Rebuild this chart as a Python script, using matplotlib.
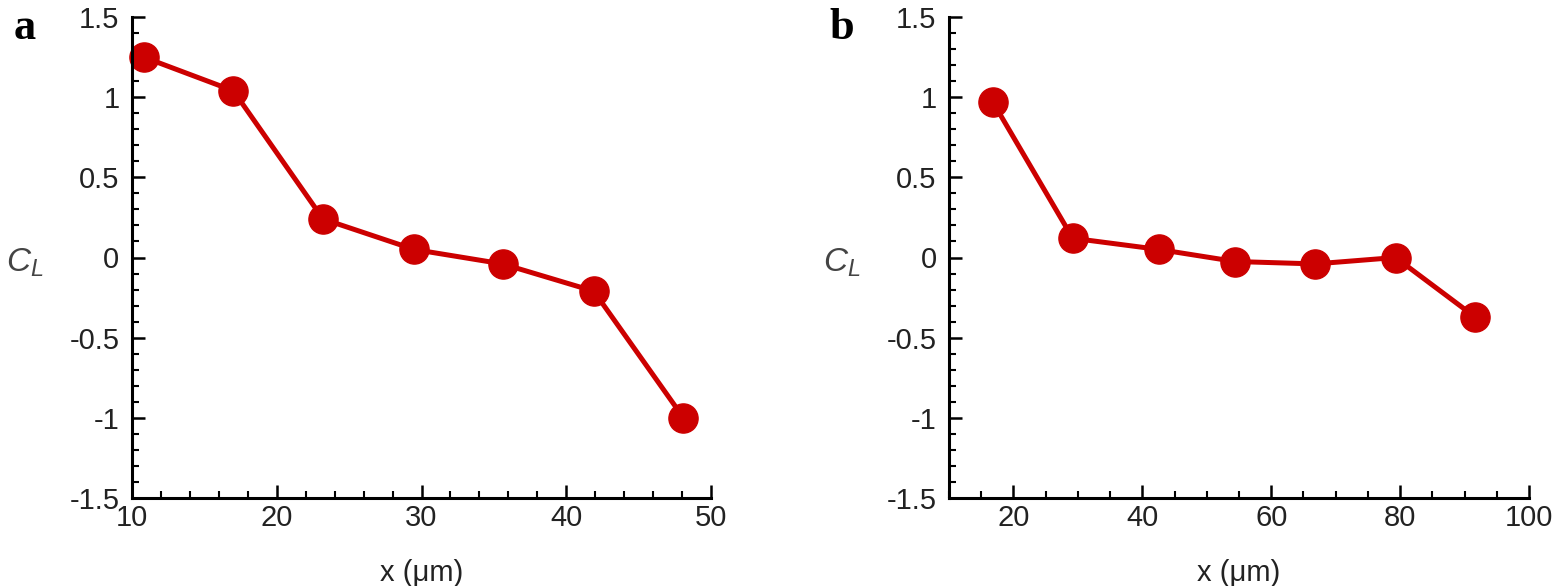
import numpy as np
import matplotlib
matplotlib.use("Agg")
import matplotlib.pyplot as plt
from matplotlib.ticker import MultipleLocator

# data
x_a = [10.8, 17.0, 23.2, 29.5, 35.6, 41.9, 48.1]
cl_a = [1.25, 1.04, 0.24, 0.05, -0.04, -0.21, -1.0]

x_b = [16.8, 29.2, 42.6, 54.4, 66.8, 79.3, 91.6]
cl_b = [0.97, 0.12, 0.05, -0.025, -0.04, 0.0, -0.37]

panel_labels = ["a", "b"]

plt.rcParams['font.family'] = ['Liberation Sans', 'DejaVu Sans']
plt.rcParams['mathtext.fontset'] = 'custom'
plt.rcParams['mathtext.it'] = 'Liberation Sans:italic'
plt.rcParams['mathtext.rm'] = 'Liberation Sans'

red = '#cc0000'
txt = '#222222'

fig = plt.figure(figsize=(15.59, 5.86), dpi=100)
ax_a = fig.add_axes([132/1559, 1 - 498/586, (711 - 132)/1559, (498 - 17)/586])
ax_b = fig.add_axes([949/1559, 1 - 498/586, (1529 - 949)/1559, (498 - 17)/586])

setups = [
    (ax_a, x_a, cl_a, (10, 50), 10, 2),
    (ax_b, x_b, cl_b, (10, 100), 20, 5),
]

for (ax, xs, ys, xlim, xmaj, xmin), lab in zip(setups, panel_labels):
    ax.plot(xs, ys, color=red, lw=3.6, marker='o', ms=21, mec=red, mfc=red, clip_on=False)
    ax.set_xlim(*xlim)
    ax.set_ylim(-1.5, 1.5)
    ax.xaxis.set_major_locator(MultipleLocator(xmaj))
    ax.xaxis.set_minor_locator(MultipleLocator(xmin))
    ax.yaxis.set_minor_locator(MultipleLocator(0.1))
    ax.set_yticks([-1.5, -1, -0.5, 0, 0.5, 1, 1.5])
    ax.set_yticklabels(['-1.5', '-1', '-0.5', '0', '0.5', '1', '1.5'])
    if xlim[1] == 100:
        ax.set_xticks([20, 40, 60, 80, 100])
    for s in ['top', 'right']:
        ax.spines[s].set_visible(False)
    for s in ['left', 'bottom']:
        ax.spines[s].set_linewidth(2.2)
    ax.tick_params(which='major', direction='in', length=9.5, width=1.8,
                   labelsize=21, labelcolor=txt, pad=4)
    ax.tick_params(which='minor', direction='in', length=5, width=1.5)
    ax.tick_params(axis='y', which='major', pad=9)
    ax.set_xlabel('x (\u03bcm)', fontsize=21, color=txt, labelpad=20)
    ax.set_ylabel('$C_L$', fontsize=24, color='#444444', rotation=0, va='center')
    ax.yaxis.set_label_coords(-0.185, 0.49)
    ax.text(-0.185, 0.977, lab, transform=ax.transAxes, fontsize=32,
            fontweight='bold', family='Liberation Serif', va='center', ha='center')

fig.savefig('out.png', dpi=100)
